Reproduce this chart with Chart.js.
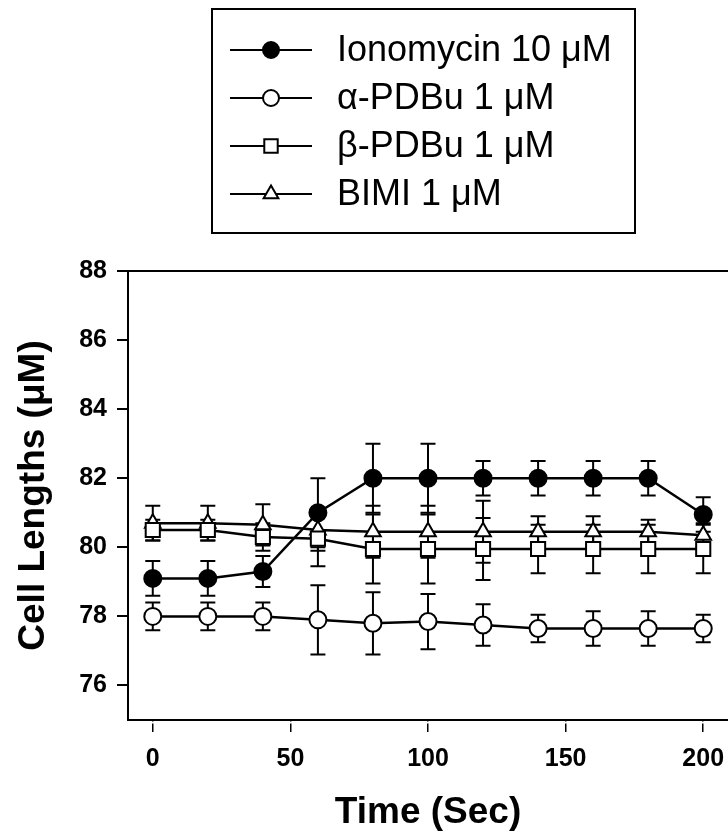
<!DOCTYPE html>
<html>
<head>
<meta charset="utf-8">
<script src="https://cdn.jsdelivr.net/npm/chart.js@4.4.1/dist/chart.umd.min.js"></script>
<style>
html, body { margin: 0; padding: 0; background: #fff; overflow: hidden; }
/* the plot frame runs off the right edge of the figure, so the canvas is a bit wider than the page */
#wrap { width: 728px; height: 840px; overflow: hidden; }
</style>
</head>
<body>
<div id="wrap"><canvas id="chart" width="740" height="840"></canvas></div>
<script>
// time points (sec)
const times = [0, 20, 40, 60, 80, 100, 120, 140, 160, 180, 200];

// cell lengths (uM) and error bars
const ionomycin    = [79.1, 79.1, 79.3, 81.0, 82.0, 82.0, 82.0, 82.0, 82.0, 82.0, 80.95];
const ionomycinErr = [0.5, 0.5, 0.45, 1.0, 1.0, 1.0, 0.5, 0.5, 0.5, 0.5, 0.5];
const alphaPDBu    = [78.0, 78.0, 78.0, 77.9, 77.8, 77.85, 77.75, 77.65, 77.65, 77.65, 77.65];
const alphaErr     = [0.4, 0.4, 0.4, 1.0, 0.9, 0.8, 0.6, 0.4, 0.5, 0.5, 0.4];
const betaPDBu     = [80.5, 80.5, 80.3, 80.25, 79.95, 79.95, 79.95, 79.95, 79.95, 79.95, 79.95];
const betaErr      = [0.3, 0.3, 0.4, 0.8, 1.0, 1.0, 0.9, 0.7, 0.7, 0.7, 0.7];
const bimi         = [80.7, 80.7, 80.65, 80.5, 80.45, 80.45, 80.45, 80.45, 80.45, 80.45, 80.35];
const bimiErr      = [0.5, 0.5, 0.6, 0.6, 0.75, 0.75, 0.9, 0.45, 0.45, 0.35, 0.35];

const labels = ['Ionomycin 10 \u03bcM', '\u03b1-PDBu 1 \u03bcM', '\u03b2-PDBu 1 \u03bcM', 'BIMI 1 \u03bcM'];
const xTicks = [0, 50, 100, 150, 200];
const yTicks = [76, 78, 80, 82, 84, 86, 88];

const FONT = '"Liberation Sans", Arial, Helvetica, sans-serif';

function pts(vals) {
    return times.map((t, i) => ({ x: t, y: vals[i] }));
}

function series(label, vals, errs, style, radius, fill) {
    return {
        label: label,
        data: pts(vals),
        errors: errs,
        borderColor: '#000',
        borderWidth: 2.5,
        pointStyle: style,
        pointRadius: radius,
        pointBackgroundColor: fill,
        pointBorderColor: '#000',
        pointBorderWidth: 2,
        tension: 0
    };
}

// vertical error bars with caps, drawn under the markers
const errorBars = {
    id: 'errorBars',
    beforeDatasetsDraw(chart) {
        const ctx = chart.ctx;
        const xs = chart.scales.x, ys = chart.scales.y;
        ctx.save();
        ctx.strokeStyle = '#000';
        ctx.lineWidth = 2;
        chart.data.datasets.forEach(ds => {
            ds.data.forEach((p, i) => {
                const e = ds.errors[i];
                const px = xs.getPixelForValue(p.x);
                const top = ys.getPixelForValue(p.y + e);
                const bot = ys.getPixelForValue(p.y - e);
                ctx.beginPath();
                ctx.moveTo(px, top); ctx.lineTo(px, bot);
                ctx.moveTo(px - 7.5, top); ctx.lineTo(px + 7.5, top);
                ctx.moveTo(px - 7.5, bot); ctx.lineTo(px + 7.5, bot);
                ctx.stroke();
            });
        });
        ctx.restore();
    }
};

// top edge of the frame, small gap under the x axis line, and the boxed legend
const frameAndLegend = {
    id: 'frameAndLegend',
    afterDraw(chart) {
        const ctx = chart.ctx;
        const a = chart.chartArea;
        ctx.save();
        ctx.strokeStyle = '#000';
        ctx.lineWidth = 2;
        ctx.beginPath();
        ctx.moveTo(a.left, a.top);
        ctx.lineTo(a.right, a.top);
        ctx.stroke();

        // x ticks sit slightly detached below the axis in the original
        ctx.fillStyle = '#fff';
        ctx.fillRect(a.left + 2, a.bottom + 1.5, a.right - a.left, 2);

        ctx.strokeRect(212, 9, 423, 224);
        chart.data.datasets.forEach((ds, i) => {
            const y = 50 + i * 48;
            ctx.lineWidth = 2;
            ctx.beginPath();
            ctx.moveTo(230, y); ctx.lineTo(312, y);
            ctx.stroke();
            ctx.fillStyle = ds.pointBackgroundColor;
            Chart.helpers.drawPoint(ctx, {
                pointStyle: ds.pointStyle,
                radius: ds.pointRadius - 0.5,
                rotation: 0,
                borderWidth: 2
            }, 271, y);
            ctx.fillStyle = '#000';
            ctx.font = '36px ' + FONT;
            ctx.textBaseline = 'middle';
            ctx.textAlign = 'left';
            ctx.fillText(ds.label, 337, y + 1);
        });
        ctx.restore();
    }
};

new Chart(document.getElementById('chart'), {
    type: 'line',
    data: {
        datasets: [
            series(labels[0], ionomycin, ionomycinErr, 'circle', 8.5, '#000'),
            series(labels[1], alphaPDBu, alphaErr, 'circle', 8.5, '#fff'),
            series(labels[2], betaPDBu, betaErr, 'rect', 10, '#fff'),
            series(labels[3], bimi, bimiErr, 'triangle', 9, '#fff')
        ]
    },
    options: {
        responsive: false,
        animation: false,
        layout: { padding: { top: 271, left: 0, right: 0, bottom: 0 } },
        plugins: {
            legend: { display: false },
            tooltip: { enabled: false }
        },
        scales: {
            x: {
                type: 'linear',
                min: -9,
                max: 209,
                afterBuildTicks: s => { s.ticks = xTicks.map(v => ({ value: v })); },
                afterFit: s => { s.height = 120; },
                grid: { drawOnChartArea: false, tickLength: 12, color: '#000', lineWidth: 1.5 },
                border: { display: true, color: '#000', width: 2 },
                ticks: { color: '#000', padding: 12, font: { family: FONT, size: 25, weight: 'bold' } },
                title: {
                    display: true,
                    text: 'Time (Sec)',
                    color: '#000',
                    font: { family: FONT, size: 37, weight: 'bold' },
                    padding: { top: 0, bottom: 5 }
                }
            },
            y: {
                min: 75,
                max: 88,
                afterBuildTicks: s => { s.ticks = yTicks.map(v => ({ value: v })); },
                afterFit: s => { s.width = 128; },
                grid: { drawOnChartArea: false, tickLength: 11, color: '#000', lineWidth: 2 },
                border: { display: true, color: '#000', width: 2 },
                ticks: { color: '#000', padding: 10, font: { family: FONT, size: 25, weight: 'bold' } },
                title: {
                    display: true,
                    text: 'Cell Lengths (\u03bcM)',
                    color: '#000',
                    font: { family: FONT, size: 37, weight: 'bold' },
                    padding: { top: 12, bottom: 0 }
                }
            }
        }
    },
    plugins: [errorBars, frameAndLegend]
});
</script>
</body>
</html>
